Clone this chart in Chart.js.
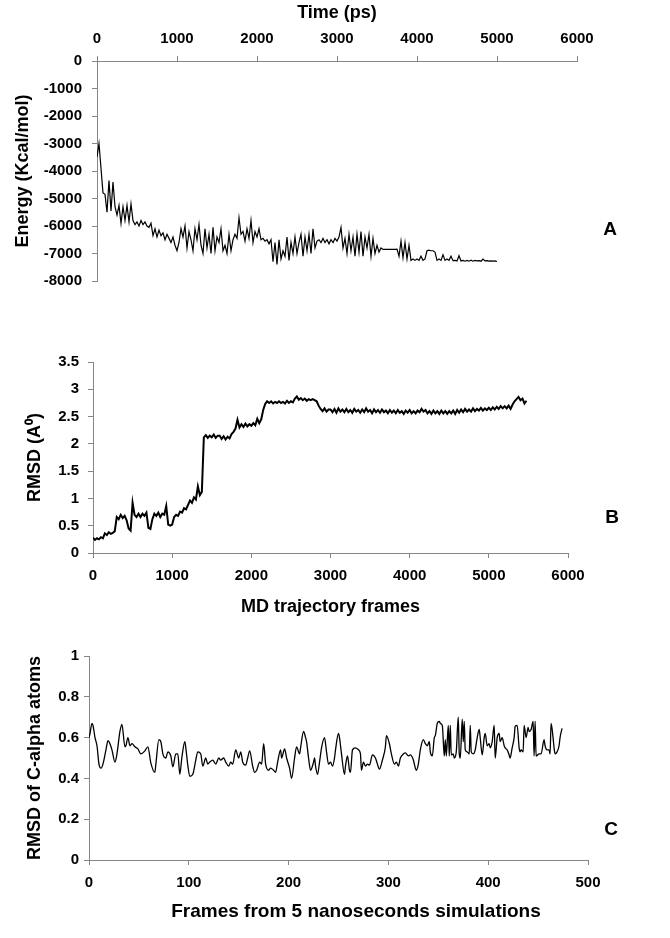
<!DOCTYPE html>
<html>
<head>
<meta charset="utf-8">
<script src="https://cdn.jsdelivr.net/npm/chart.js@4.4.1/dist/chart.umd.min.js"></script>
<style>
  html, body { margin: 0; padding: 0; background: #fff; }
  #wrap { position: relative; width: 670px; height: 938px; }
  canvas { position: absolute; left: 0; }
</style>
</head>
<body>
<div id="wrap">
  <canvas id="energyChart" width="670" height="300" style="top:0px"></canvas>
  <canvas id="rmsdChart" width="670" height="330" style="top:300px"></canvas>
  <canvas id="caChart" width="670" height="308" style="top:630px"></canvas>
</div>
<script>
// ---- data ----

// A: potential energy, one sample every 25 ps from 0 to 5000 ps
const energyTimeStep = 25;
const energyValues = [
  -3500, -3000, -3900, -4800, -4850, -5500, -4350, -5450,
  -4400, -5300, -5600, -5250, -5900, -5300, -5800, -5250,
  -5850, -5200, -5800, -5950, -5850, -6000, -5800, -5950,
  -5850, -6000, -6050, -5900, -6350, -6100, -6400, -6150,
  -6350, -6250, -6500, -6300, -6450, -6600, -6400, -6700,
  -6900, -6600, -6100, -6400, -6000, -6800, -6200, -6500,
  -6900, -6100, -6500, -5950, -6700, -7000, -6100, -6800,
  -6300, -7000, -6050, -6900, -6400, -6600, -6100, -6900,
  -6700, -7000, -6300, -6900, -6500, -6300, -6450, -5700,
  -6300, -6200, -6550, -6100, -6450, -5800, -6600, -6200,
  -6400, -6100, -6500, -6450, -6550, -6500, -6650, -6500,
  -7300, -6600, -7400, -6500, -7200, -6900, -7100, -6400,
  -7250, -6600, -7000, -6400, -7000, -6600, -6300, -7100,
  -6400, -6900, -6300, -7000, -6100, -6800, -6550, -6500,
  -6600, -6450, -6600, -6500, -6650, -6500, -6600, -6450,
  -6550, -6400, -6050, -6800, -6450, -7000, -6300, -6900,
  -6400, -7100, -6300, -6950, -6200, -7100, -6400, -6800,
  -6300, -7100, -6450, -7000, -6700, -6950, -6800, -6850,
  -6850, -6850, -6850, -6850, -6850, -6850, -6840, -7100,
  -6550, -7150, -6600, -7200, -6700, -7250, -7200, -7250,
  -7200, -7250, -7100, -7250, -7200, -6900, -6880, -6900,
  -6900, -6950, -7250, -7200, -7250, -7050, -7250, -7200,
  -7250, -7100, -7260, -7250, -7270, -7080, -7270, -7250,
  -7280, -7250, -7280, -7240, -7280, -7250, -7270, -7260,
  -7280, -7200, -7270, -7260, -7280, -7270, -7280, -7270,
  -7290
];
const timeTicks = [0, 1000, 2000, 3000, 4000, 5000, 6000];
const energyTicks = [0, -1000, -2000, -3000, -4000, -5000, -6000, -7000, -8000];

// B: backbone RMSD, one sample every 25 frames from 0 to 5475
const frameStep = 25;
const rmsdValues = [
  0.28, 0.24, 0.27, 0.25, 0.29, 0.27, 0.36, 0.33,
  0.38, 0.35, 0.37, 0.40, 0.66, 0.62, 0.70, 0.64,
  0.68, 0.60, 0.45, 0.41, 0.92, 0.70, 0.66, 0.72,
  0.66, 0.72, 0.68, 0.74, 0.46, 0.44, 0.62, 0.72,
  0.68, 0.74, 0.66, 0.72, 0.70, 0.86, 0.52, 0.50,
  0.52, 0.66, 0.70, 0.68, 0.76, 0.74, 0.82, 0.80,
  0.88, 0.96, 0.92, 1.02, 0.98, 1.22, 1.06, 1.12,
  2.12, 2.16, 2.11, 2.15, 2.12, 2.17, 2.11, 2.15,
  2.15, 2.09, 2.14, 2.08, 2.13, 2.10, 2.18, 2.22,
  2.28, 2.44, 2.30, 2.36, 2.31, 2.37, 2.32, 2.36,
  2.33, 2.38, 2.34, 2.46, 2.38, 2.45, 2.62, 2.73,
  2.78, 2.75, 2.78, 2.74, 2.77, 2.75, 2.78, 2.75,
  2.77, 2.74, 2.79, 2.75, 2.78, 2.76, 2.83, 2.87,
  2.81, 2.84, 2.80, 2.83, 2.79, 2.82, 2.80, 2.82,
  2.80, 2.78, 2.70, 2.64, 2.60, 2.65, 2.59, 2.63,
  2.63, 2.58, 2.64, 2.57, 2.65, 2.59, 2.63, 2.58,
  2.64, 2.58, 2.62, 2.57, 2.64, 2.59, 2.62, 2.57,
  2.63, 2.58, 2.65, 2.59, 2.62, 2.56, 2.63, 2.58,
  2.62, 2.57, 2.63, 2.58, 2.61, 2.56, 2.62, 2.57,
  2.61, 2.56, 2.62, 2.57, 2.60, 2.55, 2.61, 2.57,
  2.62, 2.56, 2.60, 2.56, 2.61, 2.58, 2.64, 2.59,
  2.62, 2.56, 2.60, 2.55, 2.61, 2.56, 2.60, 2.55,
  2.61, 2.56, 2.60, 2.55, 2.60, 2.56, 2.61, 2.55,
  2.62, 2.57, 2.63, 2.58, 2.64, 2.59, 2.63, 2.59,
  2.65, 2.60, 2.64, 2.61, 2.66, 2.61, 2.65, 2.62,
  2.66, 2.62, 2.67, 2.63, 2.68, 2.64, 2.69, 2.65,
  2.69, 2.65, 2.70, 2.64, 2.72, 2.78, 2.82, 2.86,
  2.80, 2.83, 2.74, 2.79
];
const frameTicks = [0, 1000, 2000, 3000, 4000, 5000, 6000];
const rmsdTicks = [0, 0.5, 1, 1.5, 2, 2.5, 3, 3.5];

// C: C-alpha RMSD over the 5 ns frames
const caFrames = [
  0, 1, 3, 4, 6, 8, 10, 12, 14, 17,
  19, 21, 23, 26, 28, 31, 33, 36, 37, 39,
  41, 43, 46, 49, 52, 56, 59, 62, 66, 67,
  70, 72, 74, 77, 79, 82, 84, 87, 89, 91,
  93, 96, 97, 99, 101, 104, 107, 109, 112, 114,
  117, 119, 121, 124, 127, 130, 132, 135, 137, 140,
  142, 144, 147, 150, 152, 154, 157, 159, 161, 164,
  166, 168, 171, 173, 175, 177, 180, 182, 185, 187,
  189, 192, 193, 196, 198, 201, 203, 206, 208, 211,
  212, 215, 217, 218, 220, 222, 225, 226, 227, 229,
  231, 233, 236, 238, 240, 242, 244, 246, 247, 250,
  251, 253, 256, 257, 259, 261, 262, 264, 267, 270,
  272, 273, 275, 277, 279, 281, 284, 287, 289, 291,
  294, 297, 298, 301, 303, 306, 308, 310, 312, 315,
  317, 320, 322, 325, 327, 328, 330, 332, 335, 337,
  339, 341, 342, 344, 346, 347, 349, 351, 352, 354,
  356, 357, 358, 360, 361, 362, 363, 365, 366, 368,
  370, 371, 372, 374, 375, 376, 377, 379, 381, 382,
  383, 385, 387, 389, 391, 392, 394, 396, 397, 399,
  401, 402, 404, 406, 407, 409, 411, 412, 414, 416,
  417, 419, 421, 422, 424, 426, 427, 429, 431, 432,
  433, 435, 436, 438, 440, 441, 443, 445, 446, 447,
  448, 451, 453, 456, 457, 459, 461, 462, 463, 465,
  466, 467, 469, 471, 472, 474
];
const caRmsd = [
  0.60, 0.62, 0.67, 0.66, 0.60, 0.56, 0.47, 0.45, 0.47, 0.54,
  0.585, 0.57, 0.54, 0.48, 0.52, 0.63, 0.665, 0.555, 0.56, 0.60,
  0.56, 0.57, 0.555, 0.545, 0.52, 0.535, 0.555, 0.475, 0.43, 0.47,
  0.59, 0.58, 0.52, 0.50, 0.53, 0.51, 0.457, 0.52, 0.52, 0.42,
  0.50, 0.58, 0.55, 0.465, 0.41, 0.42, 0.49, 0.53, 0.52, 0.46,
  0.50, 0.47, 0.48, 0.49, 0.47, 0.50, 0.49, 0.50, 0.48, 0.46,
  0.48, 0.47, 0.54, 0.50, 0.53, 0.48, 0.465, 0.50, 0.535, 0.46,
  0.43, 0.44, 0.48, 0.47, 0.57, 0.47, 0.44, 0.45, 0.44, 0.43,
  0.48, 0.54, 0.50, 0.545, 0.50, 0.45, 0.40, 0.50, 0.555, 0.52,
  0.55, 0.63, 0.60, 0.58, 0.50, 0.44, 0.48, 0.50, 0.46, 0.42,
  0.48, 0.55, 0.60, 0.53, 0.47, 0.48, 0.46, 0.50, 0.54, 0.62,
  0.60, 0.52, 0.42, 0.46, 0.51, 0.44, 0.43, 0.54, 0.55, 0.54,
  0.52, 0.44, 0.48, 0.46, 0.47, 0.465, 0.515, 0.50, 0.47, 0.445,
  0.49, 0.555, 0.61, 0.57, 0.52, 0.47, 0.48, 0.46, 0.50, 0.52,
  0.525, 0.51, 0.515, 0.49, 0.45, 0.44, 0.47, 0.54, 0.59, 0.57,
  0.56, 0.58, 0.53, 0.51, 0.60, 0.61, 0.67, 0.68, 0.67, 0.66,
  0.51, 0.59, 0.51, 0.66, 0.51, 0.66, 0.515, 0.52, 0.50, 0.53,
  0.70, 0.52, 0.50, 0.69, 0.58, 0.68, 0.54, 0.53, 0.52, 0.66,
  0.53, 0.52, 0.54, 0.60, 0.64, 0.60, 0.515, 0.60, 0.62, 0.56,
  0.57, 0.55, 0.58, 0.66, 0.50, 0.60, 0.62, 0.58, 0.60, 0.56,
  0.55, 0.54, 0.515, 0.50, 0.55, 0.60, 0.655, 0.66, 0.55, 0.53,
  0.54, 0.53, 0.66, 0.60, 0.65, 0.63, 0.64, 0.68, 0.51, 0.68,
  0.51, 0.52, 0.52, 0.59, 0.56, 0.54, 0.54, 0.52, 0.67, 0.60,
  0.55, 0.52, 0.53, 0.56, 0.60, 0.645
];
const caFrameTicks = [0, 100, 200, 300, 400, 500];
const caTicks = [0, 0.2, 0.4, 0.6, 0.8, 1];

// ---- styling ----
const AXIS_GRAY = '#868686';
const FAMILY = '"Liberation Sans", Arial, sans-serif';
const tickFont = { family: FAMILY, size: 15, weight: 'bold' };
const titleFont = { family: FAMILY, size: 18, weight: 'bold' };

// free text: panel letters and the off-centre axis title of C
const panelText = {
  id: 'panelText',
  afterDraw(chart, args, opts) {
    const ctx = chart.ctx;
    ctx.save();
    ctx.fillStyle = '#000';
    ctx.textAlign = 'center';
    ctx.textBaseline = 'middle';
    (opts.items || []).forEach(it => {
      ctx.font = 'bold ' + (it.size || 19) + 'px ' + FAMILY;
      ctx.fillText(it.text, it.x, it.y);
    });
    ctx.restore();
  }
};

function axis(tickValues, pad, fit) {
  return {
    type: 'linear',
    min: Math.min(...tickValues),
    max: Math.max(...tickValues),
    afterBuildTicks: s => { s.ticks = tickValues.map(v => ({ value: v })); },
    afterFit: fit,
    grid: { display: true, drawOnChartArea: false, drawTicks: true, tickLength: 5, tickColor: AXIS_GRAY, color: AXIS_GRAY },
    border: { display: true, color: AXIS_GRAY, width: 1 },
    ticks: {
      color: '#000', font: tickFont, padding: pad, autoSkip: false, maxRotation: 0,
      callback: v => String(+Number(v).toFixed(2))
    }
  };
}

function axisTitle(text, padding) {
  return { display: true, text: text, color: '#000', font: titleFont, padding: padding };
}

function baseOptions(padding, items) {
  return {
    responsive: false,
    animation: false,
    devicePixelRatio: 1,
    layout: { padding: padding },
    plugins: {
      legend: { display: false },
      tooltip: { enabled: false },
      panelText: { items: items }
    }
  };
}

// ---- A: energy vs time, axis on top ----
const optsA = baseOptions({ left: 0, top: 0, right: 93, bottom: 19 }, [{ text: 'A', x: 610, y: 230 }]);
optsA.scales = {
  x: Object.assign(axis(timeTicks, 8, s => { s.height = 61; }), {
    position: 'top', title: axisTitle('Time (ps)', { top: 2, bottom: 0 })
  }),
  y: Object.assign(axis(energyTicks, 10, s => { s.width = 97; }), {
    title: axisTitle('Energy (Kcal/mol)', { top: 12, bottom: 0 })
  })
};
new Chart(document.getElementById('energyChart'), {
  type: 'line',
  data: {
    datasets: [{
      data: energyValues.map((v, i) => ({ x: i * energyTimeStep, y: v })),
      borderColor: '#000', borderWidth: 1.2, pointRadius: 0, tension: 0, fill: false
    }]
  },
  options: optsA,
  plugins: [panelText]
});

// ---- B: RMSD vs MD frames ----
const optsB = baseOptions({ left: 0, top: 62, right: 102, bottom: 0 }, [{ text: 'B', x: 612, y: 218 }]);
optsB.scales = {
  x: Object.assign(axis(frameTicks, 9, s => { s.height = 77; }), {
    position: 'bottom', title: axisTitle('MD trajectory frames', { top: 0, bottom: 12 })
  }),
  y: Object.assign(axis(rmsdTicks, 9, s => { s.width = 93; }), {
    title: axisTitle('RMSD (A\u2070)', { top: 24, bottom: 0 })
  })
};
new Chart(document.getElementById('rmsdChart'), {
  type: 'line',
  data: {
    datasets: [{
      data: rmsdValues.map((v, i) => ({ x: i * frameStep, y: v })),
      borderColor: '#000', borderWidth: 2, pointRadius: 0, tension: 0, fill: false
    }]
  },
  options: optsB,
  plugins: [panelText]
});

// ---- C: C-alpha RMSD over 5 ns ----
const optsC = baseOptions({ left: 0, top: 26, right: 82, bottom: 0 }, [
  { text: 'C', x: 611, y: 200 },
  { text: 'Frames from 5 nanoseconds simulations', x: 356, y: 282, size: 19 }
]);
optsC.scales = {
  x: Object.assign(axis(caFrameTicks, 9, s => { s.height = 78; }), { position: 'bottom' }),
  y: Object.assign(axis(caTicks, 5, s => { s.width = 89; }), {
    title: axisTitle('RMSD of C-alpha atoms', { top: 24, bottom: 0 })
  })
};
new Chart(document.getElementById('caChart'), {
  type: 'line',
  data: {
    datasets: [{
      data: caFrames.map((f, i) => ({ x: f, y: caRmsd[i] })),
      borderColor: '#000', borderWidth: 1.3, pointRadius: 0,
      cubicInterpolationMode: 'monotone', fill: false
    }]
  },
  options: optsC,
  plugins: [panelText]
});
</script>
</body>
</html>
